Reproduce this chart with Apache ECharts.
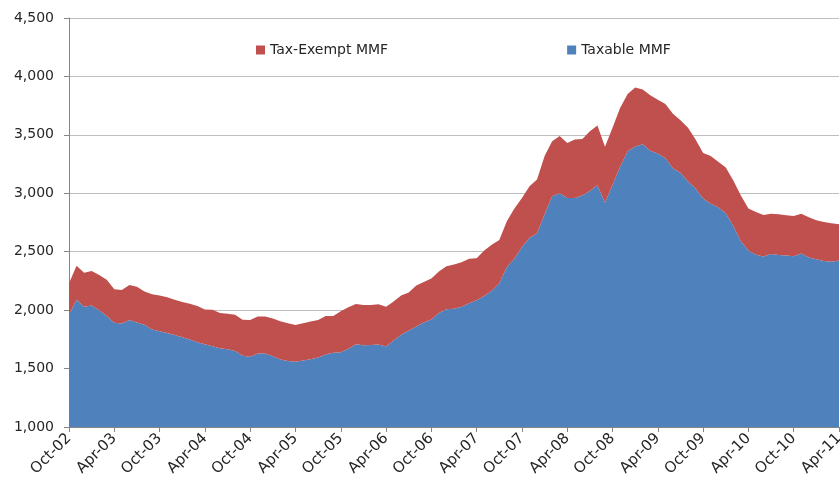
<!DOCTYPE html>
<html>
<head>
<meta charset="utf-8">
<script src="https://cdn.jsdelivr.net/npm/echarts@6/dist/echarts.min.js"></script>
<style>
  html, body { margin: 0; padding: 0; background: #fff; }
  #main { width: 840px; height: 483px; }
</style>
</head>
<body>
<div id="main"></div>
<script>
// monthly readings, Oct-02 .. Apr-11 (billions)
var monthNames = ['Jan','Feb','Mar','Apr','May','Jun','Jul','Aug','Sep','Oct','Nov','Dec'];
var months = [];
for (var i = 0; i < 103; i++) {
  var k = 9 + i;
  months.push(monthNames[k % 12] + '-' + String(2002 + Math.floor(k / 12)).slice(2));
}

var taxable = [
  1960,2090,2030,2040,2000,1950,1893,1885,1915,1895,
  1875,1835,1820,1805,1788,1768,1748,1725,1708,1690,
  1673,1665,1650,1610,1602,1630,1630,1605,1578,1565,
  1558,1570,1580,1595,1620,1635,1640,1670,1708,1700,
  1702,1705,1688,1740,1790,1825,1860,1895,1920,1975,
  2008,2012,2030,2060,2085,2120,2165,2230,2370,2440,
  2540,2620,2655,2820,2975,3000,2960,2960,2980,3020,
  3068,2920,3070,3228,3360,3400,3420,3365,3340,3300,
  3215,3175,3100,3040,2955,2910,2880,2830,2720,2590,
  2510,2475,2460,2480,2472,2468,2462,2485,2450,2435,
  2420,2414,2425
];

var taxExempt = [
  270,290,290,295,300,310,285,287,300,305,
  285,300,305,305,302,302,307,310,297,314,
  302,305,310,308,314,315,315,323,327,323,
  315,318,323,321,330,315,350,355,344,345,
  342,345,342,335,335,325,350,345,350,355,
  367,378,380,380,360,390,395,370,390,430,
  420,440,463,500,470,490,470,500,485,510,
  512,478,490,502,490,505,468,473,460,465,
  465,450,460,420,390,410,390,390,390,390,
  360,365,355,345,348,344,343,340,345,335,
  335,329,310
];

var yTicks = { min: 1000, max: 4500, step: 500 };

var chart = echarts.init(document.getElementById('main'));

var axisGrey = '#868686';
var textColor = '#262626';

chart.setOption({
  animation: false,
  color: ['#4F81BD', '#C0504D'],
  grid: { left: 69, right: 1, top: 18, bottom: 56, outerBoundsMode: 'none' },
  legend: {
    data: ['Tax-Exempt MMF', 'Taxable MMF'],
    left: 251,
    top: 38,
    itemWidth: 9,
    itemHeight: 9,
    itemGap: 179,
    icon: 'rect',
    textStyle: { fontFamily: 'DejaVu Sans', fontSize: 14, color: textColor }
  },
  xAxis: {
    type: 'category',
    data: months,
    boundaryGap: false,
    axisLine: { lineStyle: { color: axisGrey } },
    axisTick: { interval: 5, length: 5, lineStyle: { color: axisGrey } },
    axisLabel: {
      interval: 5, rotate: 45, margin: 9, hideOverlap: false,
      fontFamily: 'DejaVu Sans', fontSize: 15, color: textColor
    },
    splitLine: { show: false }
  },
  yAxis: {
    type: 'value',
    min: yTicks.min,
    max: yTicks.max,
    interval: yTicks.step,
    axisLine: { show: true, lineStyle: { color: axisGrey } },
    axisTick: { show: true, length: 5, lineStyle: { color: axisGrey } },
    axisLabel: {
      margin: 15,
      fontFamily: 'DejaVu Sans', fontSize: 14, color: textColor,
      formatter: function (v) { return v.toLocaleString('en-US'); }
    },
    splitLine: { lineStyle: { color: '#BEBEBE' } }
  },
  series: [
    {
      name: 'Taxable MMF',
      type: 'line',
      stack: 'mmf',
      data: taxable,
      symbol: 'none',
      lineStyle: { width: 0 },
      areaStyle: { opacity: 1 }
    },
    {
      name: 'Tax-Exempt MMF',
      type: 'line',
      stack: 'mmf',
      data: taxExempt,
      symbol: 'none',
      lineStyle: { width: 0 },
      areaStyle: { opacity: 1 }
    }
  ]
});
</script>
</body>
</html>
